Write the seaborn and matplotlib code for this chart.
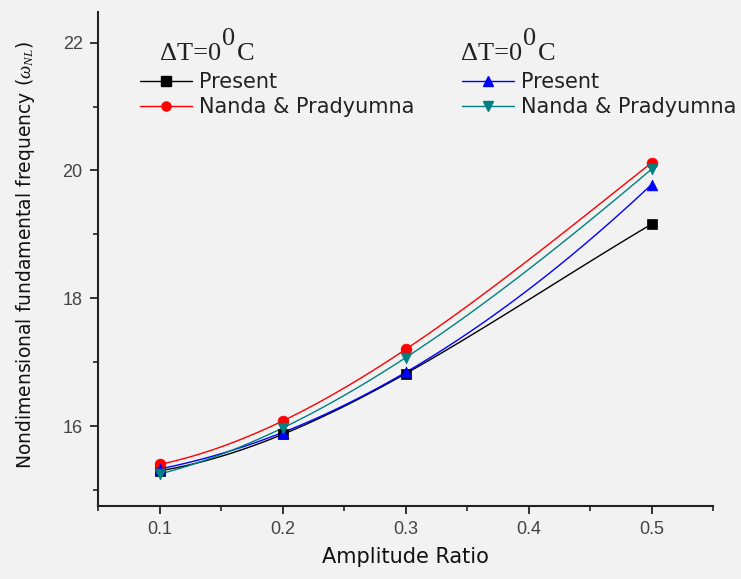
import matplotlib
matplotlib.use("Agg")
import matplotlib.pyplot as plt
from matplotlib.lines import Line2D
from matplotlib.ticker import MultipleLocator
import numpy as np
import pandas as pd
import seaborn as sns

# values
amp = [0.1, 0.2, 0.3, 0.5]
present_a = [15.30, 15.87, 16.82, 19.16]   # black squares
nanda_a = [15.40, 16.08, 17.20, 20.12]     # red circles
present_b = [15.33, 15.90, 16.84, 19.78]   # blue triangles
nanda_b = [15.25, 15.97, 17.07, 20.02]     # teal down triangles

labels = ["Present", "Nanda & Pradyumna", "Present", "Nanda & Pradyumna"]
colors = ["black", "red", "blue", "#008080"]
markers = ["s", "o", "^", "v"]
series = [present_a, nanda_a, present_b, nanda_b]

sns.set_theme(style="ticks")
plt.rcParams["font.family"] = ["DejaVu Sans"]
plt.rcParams["mathtext.fontset"] = "custom"
plt.rcParams["mathtext.rm"] = "Liberation Serif"
plt.rcParams["mathtext.it"] = "Liberation Serif:italic"

W, H = 741, 579
bg = "#f2f2f2"
fig = plt.figure(figsize=(W / 100, H / 100), dpi=100, facecolor=bg)
ax = fig.add_axes([98 / W, 1 - 506 / H, 615 / W, 494 / H])
ax.set_facecolor(bg)

# smooth connecting curve through the points (spline style connection)
xs = np.linspace(amp[0], amp[-1], 120)
for vals, c, m in zip(series, colors, markers):
    coef = np.polyfit(amp, vals, 3)
    curve = pd.DataFrame({"x": xs, "y": np.polyval(coef, xs)})
    sns.lineplot(data=curve, x="x", y="y", color=c, lw=1.0, ax=ax)
    pts = pd.DataFrame({"x": amp, "y": vals})
    sns.scatterplot(data=pts, x="x", y="y", color=c, marker=m, s=60,
                    edgecolor=c, linewidth=0.5, ax=ax, zorder=3)

ax.set_xlim(0.05, 0.55)
ax.set_ylim(14.75, 22.48)
ax.xaxis.set_minor_locator(MultipleLocator(0.05))
ax.yaxis.set_minor_locator(MultipleLocator(1))
ax.set_xticks([0.1, 0.2, 0.3, 0.4, 0.5])
ax.set_xticklabels(["0.1", "0.2", "0.3", "0.4", "0.5"])
ax.set_yticks([16, 18, 20, 22])
ax.set_yticklabels(["16", "18", "20", "22"])

for side in ["top", "right"]:
    ax.spines[side].set_visible(False)
for side in ["left", "bottom"]:
    ax.spines[side].set_linewidth(1.5)
    ax.spines[side].set_color("#222222")
ax.tick_params(which="major", direction="out", length=6, width=1.3,
               color="#222222", labelsize=13, labelcolor="#444444", pad=5)
ax.tick_params(which="minor", direction="out", length=3.5, width=1.2,
               color="#222222")
for lab in ax.get_xticklabels() + ax.get_yticklabels():
    lab.set_family("Liberation Sans")

ax.set_xlabel("")
ax.set_ylabel("")
fig.text(405 / W, 1 - 557 / H, "Amplitude Ratio", fontsize=15,
         color="#111111", ha="center", va="center")
fig.text(26 / W, 1 - 255 / H,
         r"Nondimensional fundamental frequency ($\omega_{NL}$)",
         fontsize=13.5, color="#111111", ha="center", va="center",
         rotation=90)

# two legend blocks with their own temperature captions
handles = [Line2D([], [], color=c, marker=m, lw=1.0, markersize=6.5)
           for c, m in zip(colors, markers)]
for k, x0 in [(0, 140), (2, 462)]:
    fig.legend(handles[k:k + 2], labels[k:k + 2], loc="upper left",
               bbox_to_anchor=(x0 / W, 1 - 72 / H), frameon=False,
               fontsize=15, handlelength=2.5, handletextpad=0.35,
               labelspacing=0.25, borderpad=0, borderaxespad=0,
               labelcolor="#222222")

# caption: delta T = 0 with a full-size raised 0 before C
r = fig.canvas.get_renderer()
serif = dict(fontsize=19, family="Liberation Serif", color="#222222",
             va="baseline", ha="left")
for x0 in [160, 461]:
    t1 = fig.text(x0 / W, 1 - 60 / H, "\u0394T=0", **serif)
    b1 = t1.get_window_extent(r)
    t2 = fig.text((b1.x1 + 1) / W, 1 - 45 / H, "0", **serif)
    b2 = t2.get_window_extent(r)
    fig.text((b2.x1 + 2) / W, 1 - 60 / H, "C", **serif)

fig.savefig("out.png", dpi=100, facecolor=bg)
